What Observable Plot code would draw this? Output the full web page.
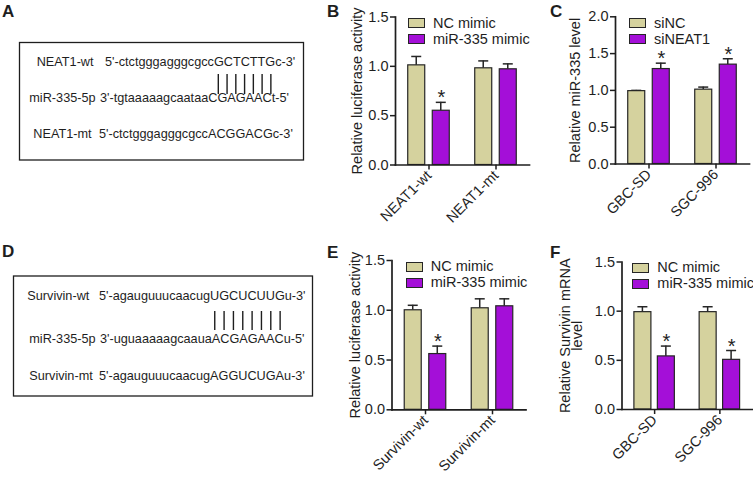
<!DOCTYPE html>
<html>
<head>
<meta charset="utf-8">
<script src="https://cdn.jsdelivr.net/npm/d3@7"></script>
<script src="https://cdn.jsdelivr.net/npm/@observablehq/plot@0.6"></script>
<style>
  html, body { margin: 0; padding: 0; background: #fff; }
  #fig { position: relative; width: 753px; height: 477px; overflow: hidden; background: #fff;
         font-family: 'Liberation Sans', Arial, Helvetica, sans-serif; color: #222; }
  .abs { position: absolute; }
</style>
</head>
<body>
<div id="fig"></div>
<script>
// ---------------- data ----------------
const seriesMimic = ["NC mimic", "miR-335 mimic"];
const seriesSi = ["siNC", "siNEAT1"];

const groupsB = ["NEAT1-wt", "NEAT1-mt"];
const ctrlB = [1.01, 0.98];
const ctrlErrB = [0.09, 0.075];
const treatB = [0.55, 0.97];
const treatErrB = [0.085, 0.055];
const sigB = [true, false];

const groupsC = ["GBC-SD", "SGC-996"];
const ctrlC = [0.99, 1.01];
const ctrlErrC = [0.01, 0.035];
const treatC = [1.29, 1.35];
const treatErrC = [0.08, 0.08];
const sigC = [true, true];

const groupsE = ["Survivin-wt", "Survivin-mt"];
const ctrlE = [1.0, 1.02];
const ctrlErrE = [0.05, 0.095];
const treatE = [0.56, 1.04];
const treatErrE = [0.08, 0.075];
const sigE = [true, false];

const groupsF = ["GBC-SD", "SGC-996"];
const ctrlF = [0.99, 0.99];
const ctrlErrF = [0.055, 0.055];
const treatF = [0.54, 0.505];
const treatErrF = [0.105, 0.095];
const sigF = [true, true];

const ticks15 = [0, 0.5, 1.0, 1.5];
const ticks20 = [0, 0.5, 1.0, 1.5, 2.0];

const labelB = "Relative luciferase activity";
const labelC = "Relative miR-335 level";
const labelE = "Relative luciferase activity";
const labelF = "Relative Survivin mRNA\nlevel";

const seqLabelsA = ["NEAT1-wt", "miR-335-5p", "NEAT1-mt"];
const seqsA = ["5'-ctctgggagggcgccGCTCTTGc-3'", "3'-tgtaaaaagcaataaCGAGAACt-5'", "5'-ctctgggagggcgccACGGACGc-3'"];
const seqLabelsD = ["Survivin-wt", "miR-335-5p", "Survivin-mt"];
const seqsD = ["5'-agauguuucaacugUGCUCUUGu-3'", "3'-uguaaaaagcaauaACGAGAACu-5'", "5'-agauguuucaacugAGGUCUGAu-3'"];

// ---------------- style ----------------
const FONT = "'Liberation Sans', Arial, Helvetica, sans-serif";
const BEIGE = "#d5d29e";
const PURPLE = "#a40fd8";
const EDGE = "#262626";
const INK = "#1e1e1e";
const BAR = 17, CAP = 10, PI = 0.38, PO = 0.19;

const fig = d3.select("#fig");

// ---------------- bar panels ----------------
function panel(cfg) {
  const rows = cfg.groups.map((g, i) => ({
    group: g, ctrl: cfg.ctrl[i], ctrlTop: cfg.ctrl[i] + cfg.ctrlErr[i],
    treat: cfg.treat[i], treatTop: cfg.treat[i] + cfg.treatErr[i], sig: cfg.sig[i]
  }));
  const W = cfg.width - cfg.ml - cfg.mr;
  const n = cfg.groups.length;
  const step = W / (n - PI + 2 * PO);
  const bw = step * (1 - PI);
  const plot = Plot.plot({
    width: cfg.width, height: cfg.height,
    marginLeft: cfg.ml, marginRight: cfg.mr, marginTop: cfg.mt, marginBottom: cfg.mb,
    style: {fontFamily: FONT, fontSize: "14px", color: INK, background: "transparent", overflow: "visible"},
    x: {domain: cfg.groups, paddingInner: PI, paddingOuter: PO, round: false, label: null},
    y: {domain: cfg.domain, label: null},
    marks: [
      Plot.barY(rows, {x: "group", y1: "ctrl", y2: "ctrlTop", fill: EDGE,
        insetLeft: BAR / 2 - 0.75, insetRight: bw - BAR / 2 - 0.75}),
      Plot.tickY(rows, {x: "group", y: "ctrlTop", stroke: EDGE, strokeWidth: 1.5,
        insetLeft: BAR / 2 - CAP / 2, insetRight: bw - BAR / 2 - CAP / 2}),
      Plot.barY(rows, {x: "group", y1: "treat", y2: "treatTop", fill: EDGE,
        insetRight: BAR / 2 - 0.75, insetLeft: bw - BAR / 2 - 0.75}),
      Plot.tickY(rows, {x: "group", y: "treatTop", stroke: EDGE, strokeWidth: 1.5,
        insetRight: BAR / 2 - CAP / 2, insetLeft: bw - BAR / 2 - CAP / 2}),
      Plot.barY(rows, {x: "group", y: "ctrl", fill: BEIGE, stroke: EDGE, strokeWidth: 1.2, insetRight: bw - BAR}),
      Plot.barY(rows, {x: "group", y: "treat", fill: PURPLE, stroke: EDGE, strokeWidth: 1.2, insetLeft: bw - BAR}),
      Plot.text(rows.filter(d => d.sig), {x: "group", y: "treatTop", text: () => "*",
        dx: bw / 2 - BAR / 2, dy: 2, lineAnchor: "bottom", fontSize: 20, fill: INK}),
      Plot.axisY({ticks: cfg.ticks, tickFormat: d3.format(".1f"), tickSize: 5, tickPadding: 2,
        strokeWidth: 1.5, stroke: INK, fill: INK, label: null, fontSize: 14.5}),
      Plot.axisX({tickRotate: -45, tickSize: 5, tickPadding: 3, strokeWidth: 1.5, stroke: INK,
        fill: INK, label: null, fontSize: 14.5}),
      Plot.frame({anchor: "left", stroke: INK, strokeWidth: 1.7}),
      Plot.frame({anchor: "bottom", stroke: INK, strokeWidth: 1.7}),
      Plot.text([cfg.label], {frameAnchor: "left", text: d => d, rotate: -90, textAnchor: "middle",
        lineAnchor: "middle", lineHeight: 0.82, dx: cfg.labelDx, fontSize: 14.5, fill: INK})
    ]
  });
  const wrap = fig.append("div").attr("class", "abs")
    .style("left", cfg.left + "px").style("top", cfg.top + "px")
    .style("width", cfg.width + "px").style("height", cfg.height + "px");
  wrap.node().appendChild(plot);
}

function legend(left, top, names) {
  const colors = [BEIGE, PURPLE];
  names.forEach((name, i) => {
    fig.append("div").attr("class", "abs")
      .style("left", left + "px").style("top", (top + 16 * i) + "px")
      .style("width", BAR + "px").style("height", "10px").style("box-sizing", "border-box")
      .style("border", "1.2px solid " + EDGE).style("background", colors[i]);
    fig.append("div").attr("class", "abs")
      .style("left", (left + 25) + "px").style("top", (top + 16 * i - 3.5) + "px")
      .style("font-size", "14.5px").style("line-height", "16px").style("white-space", "nowrap")
      .style("color", INK).text(name);
  });
}

panel({groups: groupsB, ctrl: ctrlB, ctrlErr: ctrlErrB, treat: treatB, treatErr: treatErrB, sig: sigB,
  domain: [0, 1.5], ticks: ticks15, label: labelB, labelDx: -37,
  left: 320, top: 0, width: 210, height: 240, ml: 75, mr: 1, mt: 16.5, mb: 75.5});
panel({groups: groupsC, ctrl: ctrlC, ctrlErr: ctrlErrC, treat: treatC, treatErr: treatErrC, sig: sigC,
  domain: [0, 2.0], ticks: ticks20, label: labelC, labelDx: -39,
  left: 545, top: 0, width: 208, height: 240, ml: 70, mr: 4, mt: 16.3, mb: 76.5});
panel({groups: groupsE, ctrl: ctrlE, ctrlErr: ctrlErrE, treat: treatE, treatErr: treatErrE, sig: sigE,
  domain: [0, 1.5], ticks: ticks15, label: labelE, labelDx: -35.5,
  left: 320, top: 240, width: 210, height: 237, ml: 71.5, mr: 4.5, mt: 20, mb: 67.7});
panel({groups: groupsF, ctrl: ctrlF, ctrlErr: ctrlErrF, treat: treatF, treatErr: treatErrF, sig: sigF,
  domain: [0, 1.5], ticks: ticks15, label: labelF, labelDx: -49.5,
  left: 545, top: 240, width: 208, height: 237, ml: 76.5, mr: 1, mt: 21.5, mb: 68});

legend(408, 18.3, seriesMimic);
legend(629, 18.3, seriesSi);
legend(405.7, 261.7, seriesMimic);
legend(632.3, 262.7, seriesMimic);

// ---------------- sequence boxes & panel letters ----------------
const svg = fig.append("svg").attr("class", "abs").attr("width", 753).attr("height", 477)
  .style("left", 0).style("top", 0).style("pointer-events", "none")
  .attr("font-family", FONT).attr("fill", INK);

function seqBox(box, labels, seqs, labelX, seqX, baselines, pairY) {
  svg.append("rect").attr("x", box.x).attr("y", box.y).attr("width", box.w).attr("height", box.h)
    .attr("fill", "none").attr("stroke", INK).attr("stroke-width", 1.3);
  const seqNodes = [];
  labels.forEach((lab, i) => {
    svg.append("text").attr("x", labelX[i]).attr("y", baselines[i]).attr("font-size", 12.7).text(lab);
    seqNodes.push(svg.append("text").attr("x", seqX[i]).attr("y", baselines[i]).attr("font-size", 12.7)
      .text(seqs[i]).node());
  });
  // pairing lines under the upper-case segment of the wild-type sequence
  const start = seqs[0].search(/[A-Z]{2,}/);
  const len = seqs[0].slice(start).match(/^[A-Z]+/)[0].length;
  const node = seqNodes[0];
  const x0 = seqX[0] + node.getSubStringLength(0, start);
  const w = node.getSubStringLength(start, len);
  for (let k = 0; k < len; k++) {
    const x = x0 + w * (k + 0.5) / len;
    svg.append("line").attr("x1", x).attr("x2", x).attr("y1", pairY[0]).attr("y2", pairY[1])
      .attr("stroke", INK).attr("stroke-width", 1.4);
  }
}

seqBox({x: 19.5, y: 42.5, w: 284, h: 117.5}, seqLabelsA, seqsA,
  [36.7, 29.3, 33.3], [105, 100, 99], [66, 102, 138], [74, 94]);
seqBox({x: 13.5, y: 276, w: 299, h: 120}, seqLabelsD, seqsD,
  [27.3, 29.3, 29.3], [99, 100, 99], [300, 343, 380], [311, 330]);

const letters = [["A", 2, 17], ["B", 327, 17], ["C", 550, 17], ["D", 2, 257], ["E", 327, 258], ["F", 550, 258]];
letters.forEach(([t, x, y]) => {
  svg.append("text").attr("x", x).attr("y", y).attr("font-size", 17).attr("font-weight", "bold").text(t);
});
</script>
</body>
</html>
